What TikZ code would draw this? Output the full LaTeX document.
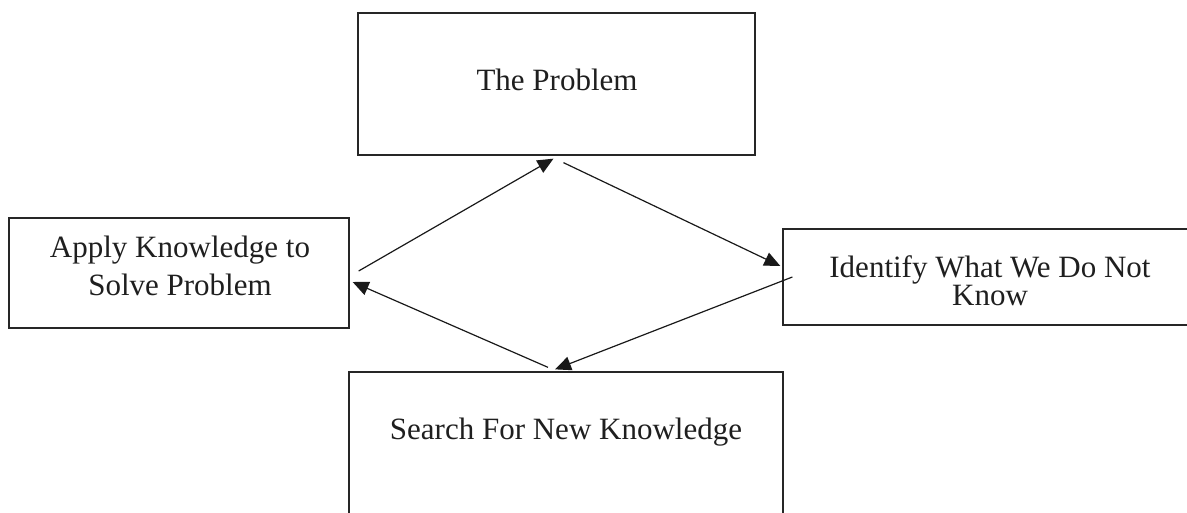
\documentclass[tikz,border=0pt]{standalone}
\usepackage{fontspec}
\setmainfont{Liberation Serif}
\usetikzlibrary{arrows.meta,calc}
\begin{document}
\begin{tikzpicture}[x=1pt,y=-1pt,
  box/.style={draw=black!85, line width=1.3pt, rectangle, inner sep=0pt},
  lbl/.style={anchor=base, inner sep=0pt, font=\fontsize{31}{37}\selectfont, text=black!88},
  conn/.style={draw=black!90, line width=1.2pt, -{Triangle[length=16pt,width=14pt]}}]
\useasboundingbox (0,0) rectangle (1187,512);
\clip (0,0) rectangle (1187,512);
% boxes
\node[box, minimum width=397pt, minimum height=142pt] (prob) at (556.5,84) {};
\node[box, minimum width=340pt, minimum height=110pt] (apply) at (179,273) {};
\node[box, minimum width=414pt, minimum height=96pt] (ident) at (990,277) {};
\node[box, minimum width=434pt, minimum height=143pt] (search) at (566,443.5) {};
% texts
\node[lbl] (tprob) at (557,90) {The Problem};
\node[lbl] (tapply1) at (180,257) {Apply Knowledge to};
\node[lbl] (tapply2) at (180,295) {Solve Problem};
\node[lbl] (tident1) at (990,277) {Identify What We Do Not};
\node[lbl] (tident2) at (990,305) {Know};
\node[lbl] (tsearch) at (566,439) {Search For New Knowledge};
% connectors
\draw[conn] ($(apply.east)+(9,-2)$) -- ($(prob.south)+(-3,3)$);
\draw[conn] ($(prob.south)+(7,7)$) -- ($(ident.west)+(-2,-11)$);
\draw[conn] ($(ident.west)+(10,0)$) -- ($(search.north)+(-11,-2)$);
\draw[conn] ($(search.north)+(-18,-4)$) -- ($(apply.east)+(3,9)$);
\end{tikzpicture}
\end{document}
